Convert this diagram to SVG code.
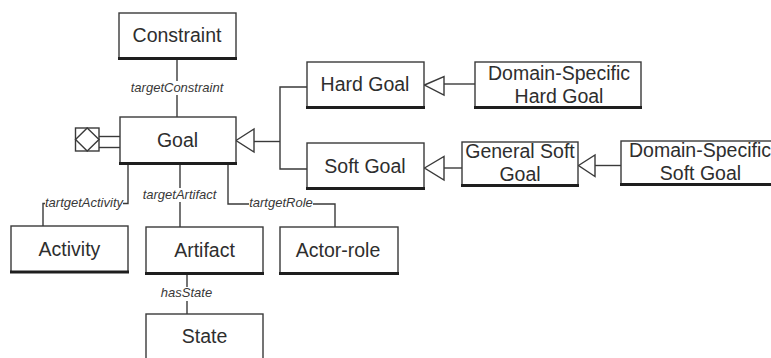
<svg xmlns="http://www.w3.org/2000/svg" width="771" height="358" viewBox="0 0 771 358">
  <style>
    .box { fill: #ffffff; stroke: #3a3a3a; stroke-width: 1.4; }
    .base { stroke: #1e1e1e; stroke-width: 3.2; }
    .name { font-family: "Liberation Sans", Arial, sans-serif; font-size: 19.5px; fill: #2e2e2e; text-anchor: middle; }
    .role { font-family: "Liberation Sans", Arial, sans-serif; font-size: 13px; font-style: italic; fill: #383838; text-anchor: middle; }
    .wire { fill: none; stroke: #3a3a3a; stroke-width: 1.4; }
    .tri { fill: #ffffff; stroke: #3a3a3a; stroke-width: 1.4; stroke-linejoin: miter; }
    .gap { fill: #ffffff; }
  </style>

  <rect width="771" height="358" fill="#ffffff"/>

  <!-- connectors -->
  <g id="connectors">
    <!-- Goal -> Constraint -->
    <line class="wire" x1="177" y1="59" x2="177" y2="117"/>
    <rect class="gap" x="131" y="81" width="94" height="14"/>
    <text class="role" x="177" y="92">targetConstraint</text>

    <!-- Goal -> Activity -->
    <polyline class="wire" points="128,164 128,203.5 43,203.5 43,226"/>
    <rect class="gap" x="45" y="196" width="78" height="14"/>
    <text class="role" x="84" y="207">tartgetActivity</text>

    <!-- Goal -> Artifact -->
    <line class="wire" x1="180" y1="164" x2="180" y2="227"/>
    <rect class="gap" x="142" y="188" width="76" height="14"/>
    <text class="role" x="179.5" y="199">targetArtifact</text>

    <!-- Goal -> Actor-role -->
    <polyline class="wire" points="228,164 228,204 335,204 335,227"/>
    <rect class="gap" x="249" y="197" width="64" height="14"/>
    <text class="role" x="281" y="207">tartgetRole</text>

    <!-- Artifact -> State -->
    <line class="wire" x1="187" y1="274" x2="187" y2="314"/>
    <rect class="gap" x="159" y="287" width="55" height="14"/>
    <text class="role" x="186.5" y="297">hasState</text>

    <!-- Hard Goal / Soft Goal generalize Goal -->
    <line class="wire" x1="254" y1="141.5" x2="280" y2="141.5"/>
    <polyline class="wire" points="307,87 280,87 280,169 307,169"/>
    <polygon class="tri" points="236,140.5 254,129 254,152"/>

    <!-- Domain-Specific Hard Goal -> Hard Goal -->
    <line class="wire" x1="444" y1="84" x2="475" y2="84"/>
    <polygon class="tri" points="424.5,85 444,76.5 444,95"/>

    <!-- General Soft Goal -> Soft Goal -->
    <line class="wire" x1="444" y1="168" x2="462" y2="168"/>
    <polygon class="tri" points="424.5,168 444,156.5 444,180"/>

    <!-- Domain-Specific Soft Goal -> General Soft Goal -->
    <line class="wire" x1="595" y1="165.5" x2="621" y2="165.5"/>
    <polygon class="tri" points="578.5,165.5 595,155 595,176.5"/>

    <!-- composition stub on Goal -->
    <line class="wire" x1="99" y1="136.5" x2="120" y2="136.5"/>
    <line class="wire" x1="99" y1="147.5" x2="120" y2="147.5"/>
  </g>

  <g id="goal-port">
    <rect class="box" x="75.5" y="128" width="23.5" height="23"/>
    <polygon class="wire" points="87.2,128 99,139.5 87.2,151 75.5,139.5"/>
  </g>

  <!-- classes -->
  <g id="constraint">
    <rect class="box" x="119" y="13" width="117" height="46"/>
    <line class="base" x1="118" y1="58.5" x2="237" y2="58.5"/>
    <text class="name" x="177" y="42">Constraint</text>
  </g>

  <g id="goal">
    <rect class="box" x="120" y="117" width="116" height="47"/>
    <line class="base" x1="119" y1="163.5" x2="237" y2="163.5"/>
    <text class="name" x="177.5" y="147">Goal</text>
  </g>

  <g id="hard-goal">
    <rect class="box" x="307" y="62" width="117" height="46"/>
    <line class="base" x1="306" y1="107.5" x2="425" y2="107.5"/>
    <text class="name" x="365" y="91">Hard Goal</text>
  </g>

  <g id="domain-specific-hard-goal">
    <rect class="box" x="475" y="62" width="166" height="46"/>
    <line class="base" x1="474" y1="107.5" x2="642" y2="107.5"/>
    <text class="name" x="559" y="79.5">Domain-Specific</text>
    <text class="name" x="559" y="102.5">Hard Goal</text>
  </g>

  <g id="soft-goal">
    <rect class="box" x="307" y="143" width="117" height="46"/>
    <line class="base" x1="306" y1="188.5" x2="425" y2="188.5"/>
    <text class="name" x="365" y="173">Soft Goal</text>
  </g>

  <g id="general-soft-goal">
    <rect class="box" x="462" y="142" width="116" height="44"/>
    <line class="base" x1="461" y1="185.5" x2="579" y2="185.5"/>
    <text class="name" x="520" y="158">General Soft</text>
    <text class="name" x="520" y="181">Goal</text>
  </g>

  <g id="domain-specific-soft-goal">
    <rect class="box" x="621" y="141" width="166" height="44"/>
    <line class="base" x1="620" y1="184.5" x2="788" y2="184.5"/>
    <text class="name" x="700" y="157">Domain-Specific</text>
    <text class="name" x="700.5" y="179.5">Soft Goal</text>
  </g>

  <g id="activity">
    <rect class="box" x="11" y="226" width="117" height="46"/>
    <line class="base" x1="10" y1="272" x2="129" y2="272"/>
    <text class="name" x="69.5" y="256">Activity</text>
  </g>

  <g id="artifact">
    <rect class="box" x="146" y="227" width="117" height="47"/>
    <line class="base" x1="145" y1="273.5" x2="264" y2="273.5"/>
    <text class="name" x="204.5" y="257">Artifact</text>
  </g>

  <g id="actor-role">
    <rect class="box" x="280" y="227" width="118" height="47"/>
    <line class="base" x1="279" y1="273.5" x2="399" y2="273.5"/>
    <text class="name" x="338" y="257">Actor-role</text>
  </g>

  <g id="state">
    <rect class="box" x="146" y="314" width="117" height="50"/>
    <text class="name" x="204.5" y="343">State</text>
  </g>
</svg>
